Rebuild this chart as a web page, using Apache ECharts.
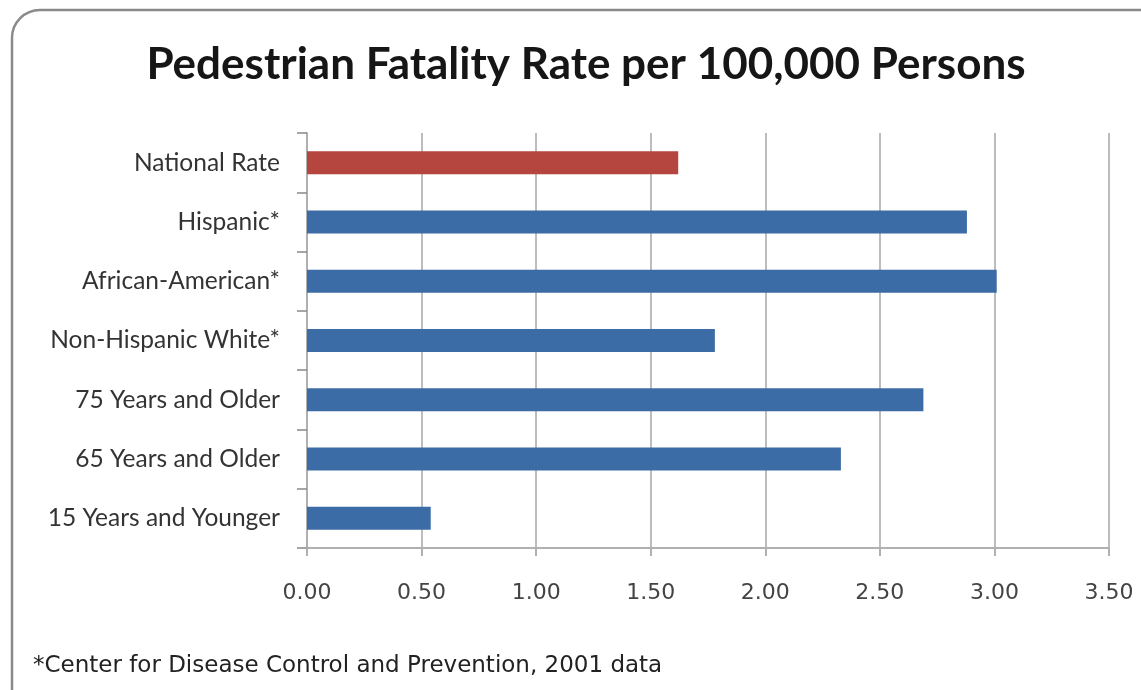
<!DOCTYPE html>
<html>
<head>
<meta charset="utf-8">
<script src="https://cdn.jsdelivr.net/npm/echarts@6/dist/echarts.min.js"></script>
<style>
  html, body { margin: 0; padding: 0; background: #fff; }
  #chart { width: 1141px; height: 690px; }
</style>
</head>
<body>
<div id="chart"></div>
<script>
// categories listed top to bottom
const categories = [
  'National Rate',
  'Hispanic*',
  'African-American*',
  'Non-Hispanic White*',
  '75 Years and Older',
  '65 Years and Older',
  '15 Years and Younger'
];
const rates = [1.62, 2.88, 3.01, 1.78, 2.69, 2.33, 0.54];
const xTicks = [0, 0.5, 1, 1.5, 2, 2.5, 3, 3.5];

const RED = '#b4453f';
const BLUE = '#3c6ca6';
const font = 'Lato, "Open Sans", sans-serif';
const wideFont = '"DejaVu Sans", Verdana, sans-serif';

const chart = echarts.init(document.getElementById('chart'));

const seriesData = rates.map((v, i) => ({
  value: v,
  itemStyle: { color: categories[i] === 'National Rate' ? RED : BLUE }
}));

const option = {
  animation: false,
  title: {
    text: 'Pedestrian Fatality Rate per 100,000 Persons',
    left: 581,
    textAlign: 'center',
    top: 38,
    textStyle: { fontFamily: font, fontWeight: 'bold', fontSize: 44, color: '#161616' }
  },
  grid: { left: 307, right: 32, top: 133, bottom: 142 },
  xAxis: {
    type: 'value',
    min: xTicks[0],
    max: xTicks[xTicks.length - 1],
    interval: 0.5,
    axisLine: { show: true, lineStyle: { color: '#b0b0b0', width: 2 } },
    axisTick: { show: true, length: 8, lineStyle: { color: '#b0b0b0', width: 2 } },
    splitLine: { show: true, lineStyle: { color: '#bdbdbd', width: 2 } },
    axisLabel: {
      margin: 34,
      fontFamily: wideFont, fontSize: 22, color: '#444',
      formatter: v => v.toFixed(2)
    }
  },
  yAxis: {
    type: 'category',
    inverse: true,
    data: categories,
    axisLine: { show: true, lineStyle: { color: '#b0b0b0', width: 2 } },
    axisTick: { show: true, length: 10, lineStyle: { color: '#888', width: 1.5 } },
    axisLabel: { margin: 27, fontFamily: font, fontSize: 24.5, color: '#333' }
  },
  series: [{
    type: 'bar',
    data: seriesData,
    barWidth: 23
  }],
  graphic: [{
    type: 'rect',
    shape: { x: 12, y: 10, width: 1170, height: 720, r: 28 },
    style: { fill: 'none', stroke: '#8a8a8a', lineWidth: 2.5 },
    z: -1
  }, {
    type: 'text',
    left: 33,
    top: 655,
    style: {
      text: '*Center for Disease Control and Prevention, 2001 data',
      font: '23px ' + wideFont,
      fill: '#222'
    }
  }]
};

chart.setOption(option);
</script>
</body>
</html>
